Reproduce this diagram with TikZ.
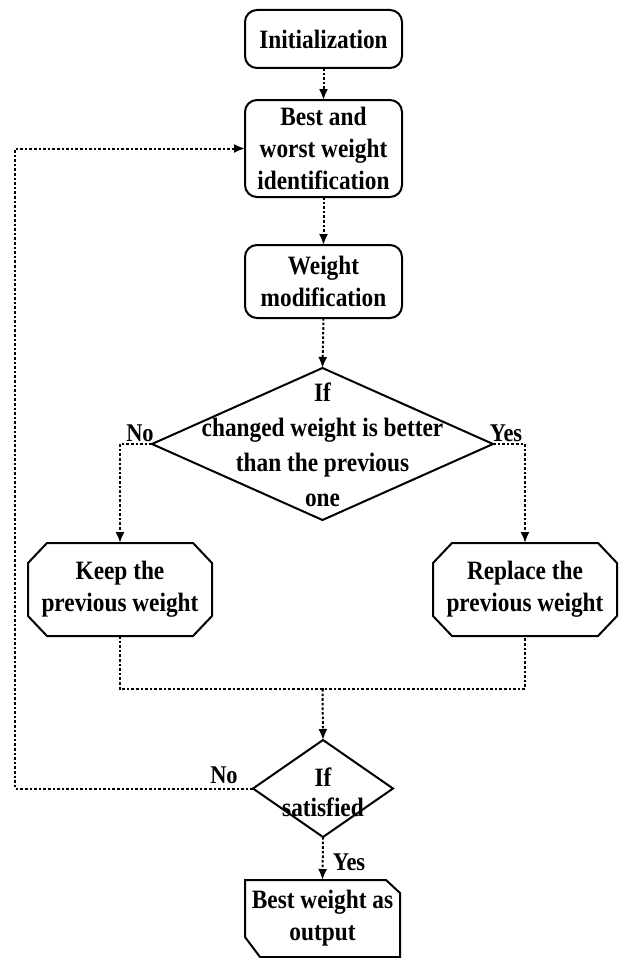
\documentclass[tikz,border=0pt]{standalone}
\usepackage{fontspec}
\setmainfont{Liberation Serif}[FakeStretch=0.88]
\usetikzlibrary{arrows.meta,shapes.geometric,calc}
\begin{document}
\begin{tikzpicture}[x=1pt,y=-1pt,
  txt/.style={font=\bfseries\fontsize{26.5}{32}\selectfont, align=center},
  rbox/.style={txt, draw, line width=2pt, rounded corners=12pt, minimum width=157pt, inner sep=0pt, outer sep=0pt},
  plain/.style={txt, minimum width=#1, inner sep=0pt, outer sep=0pt},
  dia/.style={draw, diamond, line width=2pt, inner sep=0pt, outer sep=0pt},
  conn/.style={line width=2pt, dash pattern=on 2.6pt off 2pt},
  arr/.style={conn, -{Latex[length=11pt,width=9pt]}},
  lbl/.style={font=\bfseries\fontsize{25.5}{30}\selectfont, inner sep=0pt},
  edge/.style={line width=2pt, line join=miter}
]
\useasboundingbox (0,0) rectangle (625,958);

\node[rbox, minimum height=58pt] (init) at (323.5,39) {Initialization};
\node[rbox, minimum height=97pt] (best) at (323.5,148.5) {Best and\\worst weight\\identification};
\node[rbox, minimum height=73pt] (wm) at (323.5,281.5) {Weight\\modification};

\node[dia, minimum width=341pt, minimum height=152pt] (d1) at (322.5,444) {};
\node[txt, font=\bfseries\fontsize{26.5}{35}\selectfont, inner sep=0pt] (d1t) at (322.5,445) {If\\changed weight is better\\than the previous\\one};

\node[plain=184pt, minimum height=93pt] (keep) at (120,589.5) {Keep the\\previous weight};
\draw[edge] ($(keep.north west)+(19,0)$) -- ($(keep.north east)+(-19,0)$) -- ($(keep.north east)+(0,20)$)
  -- ($(keep.south east)+(0,-20)$) -- ($(keep.south east)+(-19,0)$) -- ($(keep.south west)+(19,0)$)
  -- ($(keep.south west)+(0,-20)$) -- ($(keep.north west)+(0,20)$) -- cycle;

\node[plain=184pt, minimum height=93pt] (rep) at (525,589.5) {Replace the\\previous weight};
\draw[edge] ($(rep.north west)+(19,0)$) -- ($(rep.north east)+(-19,0)$) -- ($(rep.north east)+(0,20)$)
  -- ($(rep.south east)+(0,-20)$) -- ($(rep.south east)+(-19,0)$) -- ($(rep.south west)+(19,0)$)
  -- ($(rep.south west)+(0,-20)$) -- ($(rep.north west)+(0,20)$) -- cycle;

\node[dia, minimum width=140pt, minimum height=97pt] (d2) at (323,788.5) {};
\node[txt, font=\bfseries\fontsize{26.5}{30}\selectfont, inner sep=0pt] (d2t) at (323,792) {If\\satisfied};

\node[plain=155pt, minimum height=77pt] (out) at (322.5,918.5) {Best weight as\\output};
\draw[edge] (out.north west) -- ($(out.north east)+(-14,0)$) -- ($(out.north east)+(0,13)$)
  -- (out.south east) -- ($(out.south west)+(15,0)$) -- ($(out.south west)+(0,-20)$) -- cycle;

\coordinate (m) at (322.5,689);
\coordinate (lp) at (15,788.5);

\draw[arr] (init.south) -- (best.north);
\draw[arr] (best.south) -- (wm.north);
\draw[arr] (wm.south) -- (d1.north);
\draw[arr] (d1.west) -| (keep.north);
\draw[arr] (d1.east) -| (rep.north);
\draw[conn] (keep.south) |- (m) -| (rep.south);
\draw[arr] (m) -- (d2.north);
\draw[arr] (d2.west) -- (lp) |- (best.west);
\draw[arr] (d2.south) -- (out.north);

\node[lbl] (no1) at (140,433) {No};
\node[lbl] (yes1) at (506,433) {Yes};
\node[lbl] (no2) at (224,775) {No};
\node[lbl] (yes2) at (349,862) {Yes};
\end{tikzpicture}
\end{document}
